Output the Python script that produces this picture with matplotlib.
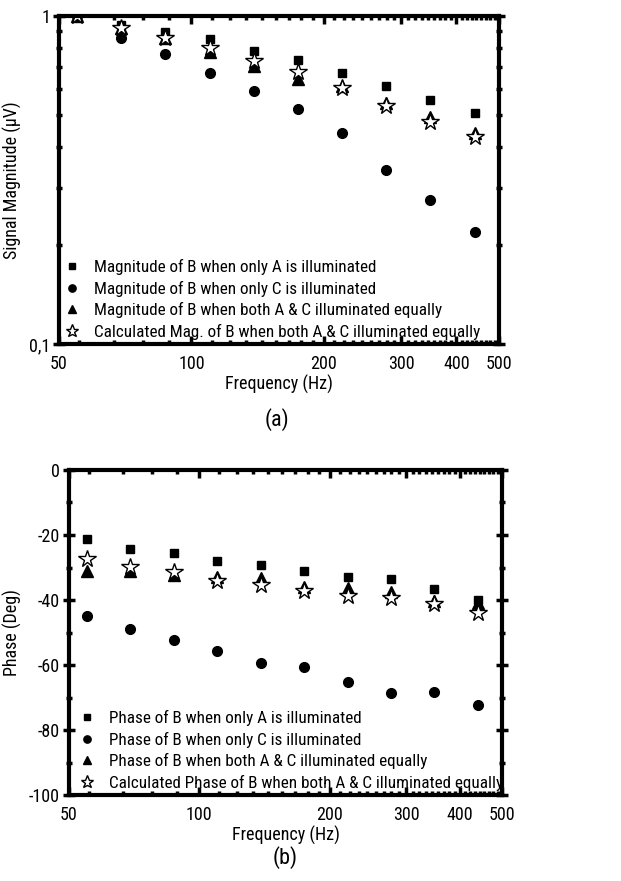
import numpy as np
import matplotlib
matplotlib.use('Agg')
import matplotlib.pyplot as plt
from matplotlib.ticker import FixedLocator, NullFormatter, FixedFormatter

plt.rcParams['font.family'] = ['Roboto Condensed', 'Archivo Narrow', 'PT Sans Narrow',
                               'Liberation Sans', 'DejaVu Sans']
plt.rcParams['axes.unicode_minus'] = False

# --------------- data ---------------
freq = [55.0, 69.3, 87.3, 110.0, 138.6, 174.6, 220.0, 277.2, 349.2, 440.0]

mag_a = [1.0, 0.939, 0.896, 0.849, 0.782, 0.734, 0.671, 0.61, 0.554, 0.507]
mag_c = [1.0, 0.859, 0.764, 0.671, 0.59, 0.521, 0.441, 0.339, 0.274, 0.219]
mag_ac = [1.0, 0.917, 0.859, 0.775, 0.706, 0.641, 0.612, 0.544, 0.491, 0.441]
mag_calc = [1.0, 0.92, 0.859, 0.80, 0.729, 0.676, 0.605, 0.532, 0.476, 0.429]

ph_a = [-21.3, -24.3, -25.4, -27.9, -29.1, -31.0, -32.8, -33.5, -36.6, -40.0]
ph_c = [-44.9, -48.8, -52.2, -55.6, -59.5, -60.7, -65.3, -68.7, -68.4, -72.4]
ph_ac = [-31.0, -31.0, -32.3, -33.0, -33.2, -35.9, -36.2, -37.4, -40.3, -40.8]
ph_calc = [-27.5, -29.9, -31.5, -34.1, -35.4, -37.1, -38.8, -39.5, -41.3, -44.1]

lab_mag = ['Magnitude of B when only A is illuminated',
           'Magnitude of B when only C is illuminated',
           'Magnitude of B when both A & C illuminated equally',
           'Calculated Mag. of B when both A & C illuminated equally']
lab_ph = ['Phase of B when only A is illuminated',
          'Phase of B when only C is illuminated',
          'Phase of B when both A & C illuminated equally',
          'Calculated Phase of B when both A & C illuminated equally']

x_major = [50, 100, 200, 300, 400, 500]
x_major_lab = ['50', '100', '200', '300', '400', '500']

FS = 12.3
W, H = 621, 881
fig = plt.figure(figsize=(W / 100, H / 100), dpi=100)


def px_axes(l, r, t, b):
    return fig.add_axes([l / W, 1 - b / H, (r - l) / W, (b - t) / H])


def style_x(ax):
    ax.set_xscale('log')
    ax.set_xlim(50, 500)
    ax.xaxis.set_major_locator(FixedLocator(x_major))
    ax.xaxis.set_major_formatter(FixedFormatter(x_major_lab))
    minors = [v for v in np.arange(0, 501, 100 / 9) if v > 50 and v < 500]
    ax.xaxis.set_minor_locator(FixedLocator(minors))
    ax.xaxis.set_minor_formatter(NullFormatter())
    ax.tick_params(which='both', top=True, right=True, labelsize=FS + 0.7, width=2.5)
    ax.tick_params(axis='x', which='both', direction='in', pad=8)
    ax.tick_params(axis='x', which='major', length=6)
    ax.tick_params(axis='x', which='minor', length=3)
    ax.tick_params(axis='y', which='both', direction='inout', pad=2)
    ax.tick_params(axis='y', which='major', length=9)
    ax.tick_params(axis='y', which='minor', length=5)
    for s in ax.spines.values():
        s.set_linewidth(3)
    ax.set_xlabel('Frequency (Hz)', fontsize=FS + 0.7, labelpad=1)


def draw(ax, ys, labels):
    ax.plot(freq, ys[0], 's', color='black', ms=6, ls='none', label=labels[0])
    ax.plot(freq, ys[1], 'o', color='black', ms=7, ls='none', label=labels[1])
    ax.plot(freq, ys[2], '^', color='black', ms=8, ls='none', label=labels[2])
    ax.plot(freq, ys[3], '*', mfc='white', mec='black', mew=1.0, ms=13,
            ls='none', label=labels[3])


def add_legend(ax, dx):
    ax.legend(loc='lower left', frameon=False, fontsize=FS, handletextpad=0.8,
              labelspacing=0.32, borderaxespad=0.0, borderpad=0.25,
              handlelength=1.0, markerscale=0.75, bbox_to_anchor=(dx, 0.0))


# --------------- (a) magnitude ---------------
ax1 = px_axes(59, 499, 16, 344)
draw(ax1, [mag_a, mag_c, mag_ac, mag_calc], lab_mag)
ax1.set_yscale('log')
ax1.set_ylim(0.1, 1)
style_x(ax1)
ax1.yaxis.set_major_locator(FixedLocator([0.1, 1]))
ax1.yaxis.set_major_formatter(FixedFormatter(['0,1', '1']))
ax1.yaxis.set_minor_locator(FixedLocator([0.2, 0.3, 0.4, 0.5, 0.6, 0.7, 0.8, 0.9]))
ax1.yaxis.set_minor_formatter(NullFormatter())
ax1.set_ylabel('Signal Magnitude (\u03bcV)', fontsize=FS + 0.7)
ax1.yaxis.set_label_coords((22 - 59) / 440, 0.5)
add_legend(ax1, 0.0)
fig.text(277 / W, 1 - 420 / H, '(a)', fontsize=16, ha='center', va='center')

# --------------- (b) phase ---------------
ax2 = px_axes(69, 502, 470, 795)
draw(ax2, [ph_a, ph_c, ph_ac, ph_calc], lab_ph)
ax2.set_ylim(-100, 0)
style_x(ax2)
ax2.yaxis.set_major_locator(FixedLocator([-100, -80, -60, -40, -20, 0]))
ax2.yaxis.set_minor_locator(FixedLocator([-90, -70, -50, -30, -10]))
ax2.set_ylabel('Phase (Deg)', fontsize=FS + 0.7)
ax2.yaxis.set_label_coords((22 - 69) / 433, 0.5)
add_legend(ax2, 0.012)
fig.text(285 / W, 1 - 858 / H, '(b)', fontsize=16, ha='center', va='center')

fig.savefig('out.png', dpi=100)
